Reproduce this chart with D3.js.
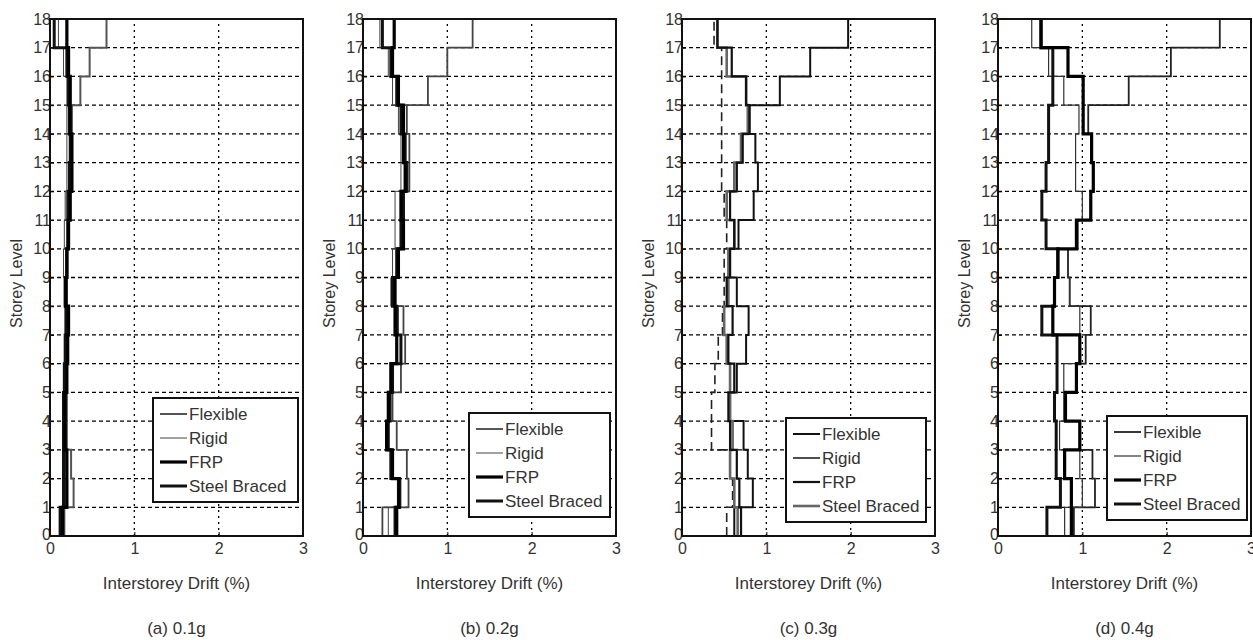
<!DOCTYPE html>
<html>
<head>
<meta charset="utf-8">
<script src="https://cdn.jsdelivr.net/npm/d3@7"></script>
<style>
  body { margin: 0; background: #fff; }
  svg { display: block; }
  text { font-family: "Liberation Sans", Arial, sans-serif; fill: #333; }
</style>
</head>
<body>
<svg id="chart" width="1253" height="640"></svg>
<script>
// storey levels and tick labels
const storeyTicks = d3.range(0, 19);
const driftTicks = [0, 1, 2, 3];
const seriesNames = ["Flexible", "Rigid", "FRP", "Steel Braced"];
const captions = ["(a) 0.1g", "(b) 0.2g", "(c) 0.3g", "(d) 0.4g"];

// peak interstorey drift (%) per storey, storey 1 (ground) first
const flexible01 = [0.17, 0.28, 0.25, 0.2, 0.2, 0.2, 0.2, 0.22, 0.2, 0.2, 0.22, 0.2, 0.24, 0.26, 0.26, 0.36, 0.47, 0.67];
const rigid01    = [0.13, 0.18, 0.18, 0.17, 0.17, 0.18, 0.18, 0.18, 0.17, 0.16, 0.17, 0.18, 0.2, 0.2, 0.2, 0.2, 0.16, 0.1];
const frp01      = [0.15, 0.2, 0.2, 0.18, 0.18, 0.2, 0.21, 0.22, 0.19, 0.2, 0.22, 0.24, 0.26, 0.26, 0.24, 0.24, 0.22, 0.2];
const steel01    = [0.12, 0.16, 0.16, 0.16, 0.16, 0.17, 0.18, 0.19, 0.18, 0.2, 0.21, 0.22, 0.23, 0.24, 0.23, 0.22, 0.2, 0.05];

const flexible02 = [0.23, 0.54, 0.52, 0.4, 0.35, 0.45, 0.5, 0.48, 0.38, 0.4, 0.45, 0.45, 0.55, 0.55, 0.52, 0.77, 1.0, 1.3];
const rigid02    = [0.3, 0.45, 0.35, 0.3, 0.3, 0.35, 0.4, 0.42, 0.33, 0.35, 0.38, 0.38, 0.45, 0.45, 0.42, 0.35, 0.3, 0.2];
const frp02      = [0.4, 0.43, 0.35, 0.28, 0.3, 0.33, 0.4, 0.38, 0.38, 0.42, 0.48, 0.45, 0.5, 0.48, 0.48, 0.42, 0.35, 0.37];
const steel02    = [0.38, 0.42, 0.33, 0.3, 0.32, 0.35, 0.45, 0.4, 0.35, 0.4, 0.45, 0.48, 0.52, 0.5, 0.45, 0.4, 0.33, 0.23];

const flexible03 = [0.62, 0.84, 0.78, 0.73, 0.57, 0.65, 0.76, 0.79, 0.65, 0.57, 0.67, 0.85, 0.9, 0.87, 0.8, 1.16, 1.52, 1.97];
const rigid03    = [0.53, 0.6, 0.57, 0.35, 0.35, 0.39, 0.43, 0.48, 0.5, 0.5, 0.53, 0.5, 0.47, 0.47, 0.47, 0.47, 0.47, 0.38];
const frp03      = [0.7, 0.68, 0.65, 0.57, 0.55, 0.62, 0.55, 0.6, 0.53, 0.57, 0.62, 0.57, 0.65, 0.72, 0.8, 0.76, 0.59, 0.42];
const steel03    = [0.66, 0.62, 0.57, 0.6, 0.57, 0.57, 0.53, 0.5, 0.55, 0.55, 0.62, 0.53, 0.62, 0.7, 0.78, 0.76, 0.53, 0.42];

const flexible04 = [0.9, 1.15, 1.12, 0.97, 0.8, 0.93, 1.04, 1.1, 0.85, 0.83, 0.93, 1.1, 1.13, 1.11, 1.07, 1.55, 2.05, 2.63];
const rigid04    = [0.79, 1.0, 0.97, 0.73, 0.78, 0.78, 0.97, 0.97, 0.85, 0.83, 0.95, 1.0, 0.92, 0.92, 0.96, 0.78, 0.6, 0.4];
const frp04      = [0.87, 0.87, 0.79, 0.97, 0.8, 0.93, 0.97, 0.65, 0.67, 0.71, 0.93, 1.1, 1.13, 1.11, 1.01, 1.01, 0.83, 0.51];
const steel04    = [0.58, 0.74, 0.69, 0.69, 0.67, 0.7, 0.7, 0.52, 0.67, 0.71, 0.57, 0.52, 0.57, 0.6, 0.6, 0.65, 0.65, 0.51];

const panelData = [
  [flexible01, rigid01, frp01, steel01],
  [flexible02, rigid02, frp02, steel02],
  [flexible03, rigid03, frp03, steel03],
  [flexible04, rigid04, frp04, steel04]
];

// layout
const lefts = [50, 363, 682, 998];
const plotW = 253, plotTop = 19, plotBottom = 536;
// legend boxes: [left, top, width]
const legendBoxes = [[153, 398, 145], [469, 413, 141], [786, 418, 140], [1107, 416, 140]];

// line styles: Flexible, Rigid, FRP, Steel Braced
const styles = [
  [{c: "#555", w: 2}, {c: "#444", w: 1}, {c: "#000", w: 3.2}, {c: "#111", w: 3}],
  [{c: "#444", w: 1.8}, {c: "#444", w: 1}, {c: "#000", w: 3.2}, {c: "#111", w: 3}],
  [{c: "#111", w: 2}, {c: "#222", w: 1.6, dash: "9,5"}, {c: "#111", w: 2.2}, {c: "#666", w: 2.6}],
  [{c: "#222", w: 1.8}, {c: "#333", w: 1.2}, {c: "#000", w: 3.2}, {c: "#111", w: 3}]
];

const svg = d3.select("#chart");

panelData.forEach((series, p) => {
  const x = d3.scaleLinear().domain([0, 3]).range([lefts[p], lefts[p] + plotW]);
  const y = d3.scaleLinear().domain([0, 18]).range([plotBottom, plotTop]);
  const g = svg.append("g");

  // grid
  g.append("g")
    .selectAll("line")
    .data(storeyTicks.filter(d => d > 0 && d < 18))
    .join("line")
    .attr("x1", x(0)).attr("x2", x(3))
    .attr("y1", d => y(d)).attr("y2", d => y(d))
    .attr("stroke", "#000").attr("stroke-width", 1.3)
    .attr("stroke-dasharray", "4,3");
  g.append("g")
    .selectAll("line")
    .data(driftTicks.filter(d => d > 0 && d < 3))
    .join("line")
    .attr("x1", d => x(d)).attr("x2", d => x(d))
    .attr("y1", y(0)).attr("y2", y(18))
    .attr("stroke", "#000").attr("stroke-width", 1.3)
    .attr("stroke-dasharray", "2,4");

  // step profiles
  const clipId = "clip" + p;
  g.append("clipPath").attr("id", clipId)
    .append("rect")
    .attr("x", x(0)).attr("y", y(18))
    .attr("width", plotW).attr("height", plotBottom - plotTop);

  const line = d3.line().x(d => x(d[0])).y(d => y(d[1]));
  const order = [0, 1, 3, 2];
  order.forEach(s => {
    const vals = series[s];
    const pts = [];
    vals.forEach((v, i) => { pts.push([v, i]); pts.push([v, i + 1]); });
    const st = styles[p][s];
    g.append("path")
      .attr("clip-path", `url(#${clipId})`)
      .attr("d", line(pts))
      .attr("fill", "none")
      .attr("stroke", st.c)
      .attr("stroke-width", st.w)
      .attr("stroke-dasharray", st.dash || null);
  });

  // axes
  const yAxis = d3.axisLeft(y).tickValues(storeyTicks).tickSize(-4).tickPadding(2);
  const xAxis = d3.axisBottom(x).tickValues(driftTicks).tickFormat(d3.format("d")).tickSize(-4).tickPadding(7);
  const ya = g.append("g").attr("transform", `translate(${x(0)},0)`).call(yAxis);
  const xa = g.append("g").attr("transform", `translate(0,${plotBottom})`).call(xAxis);
  [ya, xa].forEach(a => {
    a.select(".domain").remove();
    a.selectAll(".tick line").attr("stroke", "#000");
    a.selectAll("text").style("font-size", "16px").attr("fill", "#333");
  });
  ya.selectAll("text").attr("dx", "3");
  ya.selectAll(".tick").filter(d => d === 0).select("text").attr("dy", "0.2em");

  // box
  g.append("rect")
    .attr("x", x(0)).attr("y", y(18))
    .attr("width", plotW).attr("height", plotBottom - plotTop)
    .attr("fill", "none").attr("stroke", "#111").attr("stroke-width", 2);

  // labels
  const cx = x(1.5);
  g.append("text")
    .attr("transform", `translate(${x(0) - 34},${(plotTop + plotBottom) / 2 + 6}) rotate(-90)`)
    .attr("text-anchor", "middle").attr("dy", "0.35em")
    .style("font-size", "16px")
    .text("Storey Level");
  g.append("text")
    .attr("x", cx).attr("y", 583).attr("dy", "0.35em")
    .attr("text-anchor", "middle").style("font-size", "17px")
    .text("Interstorey Drift (%)");
  g.append("text")
    .attr("x", cx).attr("y", 628).attr("dy", "0.35em")
    .attr("text-anchor", "middle").style("font-size", "17px")
    .text(captions[p]);

  // legend
  const [lx, ly, lw] = legendBoxes[p];
  const lh = 104;
  const leg = g.append("g");
  leg.append("rect")
    .attr("x", lx).attr("y", ly).attr("width", lw).attr("height", lh)
    .attr("fill", "#fff").attr("stroke", "#111").attr("stroke-width", 2);
  seriesNames.forEach((name, s) => {
    const yy = ly + 16 + s * 24;
    const st = styles[p][s];
    leg.append("line")
      .attr("x1", lx + 7).attr("x2", lx + 34)
      .attr("y1", yy).attr("y2", yy)
      .attr("stroke", st.c).attr("stroke-width", st.w);
    leg.append("text")
      .attr("x", lx + 36).attr("y", yy).attr("dy", "0.35em")
      .style("font-size", "17px")
      .text(name);
  });
});
</script>
</body>
</html>
